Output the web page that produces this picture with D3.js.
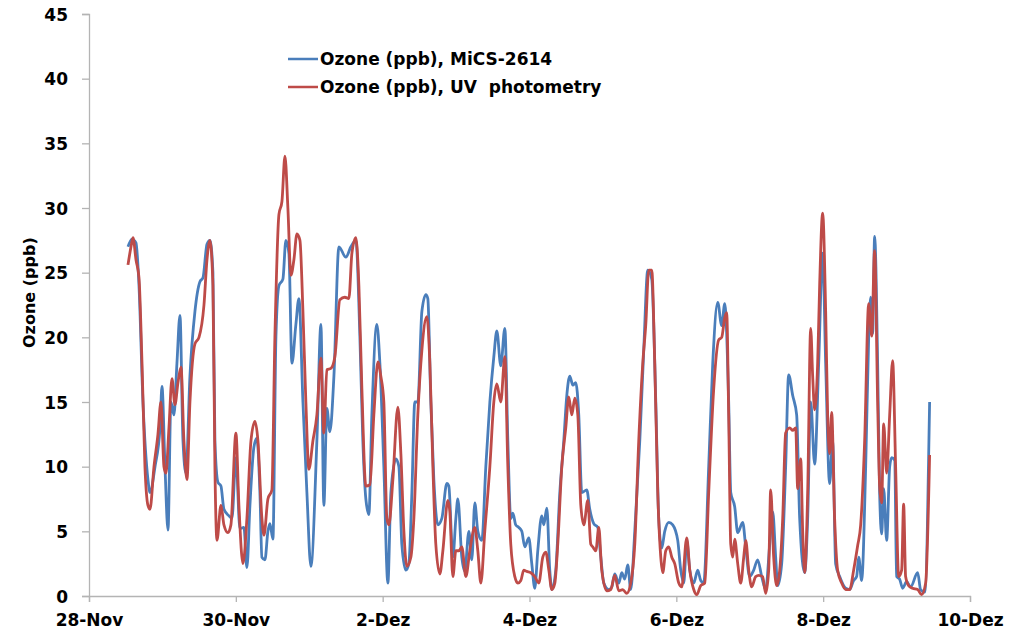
<!DOCTYPE html>
<html>
<head>
<meta charset="utf-8">
<script src="https://cdn.jsdelivr.net/npm/d3@7"></script>
<style>
  html, body { margin: 0; padding: 0; background: #fff; }
  svg text { font-family: "DejaVu Sans", sans-serif; font-weight: bold; fill: #000; }
</style>
</head>
<body>
<svg id="chart" width="1021" height="633"></svg>
<script>
// days since 28-Nov 00:00 and ozone in ppb
const micsDays = [0.531,0.585,0.640,0.681,0.735,0.803,0.830,0.899,0.967,0.994,1.035,1.076,1.116,1.157,1.198,1.239,1.280,1.321,1.375,1.443,1.511,1.552,1.607,1.647,1.688,1.715,1.756,1.797,1.838,1.906,1.947,2.001,2.056,2.110,2.151,2.192,2.246,2.287,2.328,2.355,2.396,2.437,2.464,2.505,2.546,2.587,2.641,2.682,2.723,2.764,2.818,2.859,2.914,2.968,3.022,3.104,3.159,3.199,3.240,3.281,3.336,3.404,3.499,3.567,3.635,3.690,3.730,3.771,3.812,3.853,3.921,3.962,4.016,4.071,4.112,4.180,4.221,4.261,4.316,4.357,4.398,4.438,4.479,4.534,4.588,4.615,4.656,4.697,4.752,4.806,4.874,4.901,4.956,4.997,5.024,5.078,5.119,5.174,5.214,5.255,5.296,5.351,5.405,5.460,5.514,5.555,5.609,5.664,5.705,5.745,5.773,5.813,5.854,5.895,5.936,5.990,6.031,6.072,6.113,6.167,6.195,6.236,6.276,6.304,6.358,6.413,6.467,6.508,6.549,6.590,6.630,6.671,6.712,6.780,6.821,6.875,6.930,6.971,7.012,7.080,7.121,7.161,7.216,7.257,7.297,7.338,7.379,7.434,7.502,7.556,7.611,7.665,7.720,7.760,7.801,7.842,7.897,7.951,8.019,8.060,8.101,8.142,8.183,8.237,8.291,8.332,8.373,8.441,8.496,8.564,8.618,8.659,8.713,8.741,8.795,8.836,8.904,8.945,8.999,9.054,9.108,9.163,9.217,9.272,9.313,9.353,9.381,9.435,9.489,9.530,9.585,9.639,9.680,9.748,9.789,9.830,9.884,9.939,9.993,10.034,10.088,10.129,10.170,10.225,10.306,10.361,10.415,10.456,10.484,10.524,10.579,10.620,10.647,10.674,10.701,10.742,10.769,10.797,10.824,10.865,10.906,10.933,10.974,11.001,11.042,11.082,11.137,11.191,11.287,11.327,11.382,11.450];
const micsPpb = [27.0,27.6,27.3,24,15,9,8,10,13,16.2,10,5.1,15,14,18,21.7,12,9.5,17,22,24.3,24.6,27.2,27.5,25,12,8.8,8.5,6.7,6.2,6,10.7,5.2,5.3,2.2,7,11.5,12.2,8,3,2.8,5,5.6,4.4,20,24,24.5,27.5,26.5,18,21,23,15,8,2.3,12,21,7,14.5,12.7,17,27,26.2,27,27.5,20,12,7.5,6.3,14,21,18,10,1,8,10.6,10,4,2,2.5,8,15,15,22,23.3,23,15,9,5.5,6,8.7,8.5,3,6,7.5,3,1.9,5,2.8,7.2,5,4.3,10,15,18.5,20.5,17.8,20.7,12,6,6.4,5.5,5.3,5,3.8,4.5,2.5,0.6,3.5,6.2,5.5,6.8,2,0.5,2,8,12,15.5,17,16.3,16.5,14,8,8.2,6.7,5.6,5.3,3,1,0.5,0.7,1.7,1,1.8,1.3,2.4,0.5,5,12,19,25.2,24.5,15,6,3.7,5,5.7,5.5,4.3,2,1,4.3,2,1,2,1.2,1,10,18,22.7,20.9,22.6,15,8,6.9,4.9,5.7,3.8,1.5,2,2.8,1.5,0.5,4,6.5,3,0.8,2.5,10,17.1,15.5,14,6,1.8,6,15,10.2,18,26.5,18,8.7,12,2.5,1.5,0.6,0.5,1.2,1.5,3,1.2,10,20,23.1,20.3,27.8,18,8,4.8,8.3,4.3,10,10.7,10.5,1.5,1.3,0.6,1.1,0.7,1.8,0.5,0.3,15];

const uvDays = [0.531,0.572,0.599,0.640,0.681,0.722,0.762,0.803,0.830,0.885,0.939,0.980,1.021,1.048,1.089,1.130,1.171,1.212,1.253,1.293,1.334,1.375,1.443,1.498,1.566,1.607,1.647,1.688,1.715,1.743,1.797,1.838,1.892,1.933,2.001,2.042,2.097,2.151,2.206,2.260,2.301,2.355,2.383,2.437,2.491,2.532,2.587,2.628,2.669,2.709,2.750,2.791,2.832,2.873,2.914,2.954,2.995,3.050,3.104,3.159,3.199,3.240,3.295,3.349,3.417,3.485,3.540,3.581,3.635,3.676,3.717,3.771,3.826,3.880,3.935,3.975,4.016,4.057,4.084,4.139,4.207,4.248,4.289,4.329,4.384,4.425,4.479,4.534,4.602,4.643,4.684,4.724,4.779,4.820,4.888,4.915,4.956,4.997,5.037,5.078,5.133,5.187,5.255,5.296,5.337,5.391,5.460,5.514,5.555,5.609,5.664,5.705,5.745,5.800,5.841,5.882,5.922,5.963,6.018,6.072,6.127,6.181,6.222,6.263,6.304,6.345,6.385,6.440,6.494,6.535,6.576,6.617,6.658,6.699,6.740,6.794,6.835,6.862,6.903,6.944,6.984,7.053,7.107,7.161,7.216,7.270,7.325,7.379,7.434,7.488,7.543,7.584,7.624,7.665,7.706,7.747,7.788,7.815,7.856,7.897,7.938,7.978,8.033,8.074,8.142,8.183,8.237,8.278,8.332,8.387,8.441,8.509,8.577,8.618,8.659,8.686,8.713,8.741,8.768,8.795,8.836,8.877,8.918,8.945,8.986,9.026,9.081,9.122,9.176,9.217,9.258,9.285,9.326,9.367,9.408,9.449,9.489,9.544,9.585,9.626,9.653,9.694,9.721,9.748,9.789,9.830,9.857,9.884,9.925,9.952,9.993,10.034,10.061,10.088,10.116,10.156,10.197,10.252,10.306,10.361,10.415,10.470,10.511,10.565,10.620,10.661,10.701,10.742,10.769,10.797,10.824,10.865,10.906,10.946,10.987,11.028,11.069,11.096,11.123,11.164,11.218,11.287,11.341,11.396,11.450];
const uvPpb = [25.6,27,27.7,26,24.6,18,10,7,6.7,10,12.5,15,10,9.5,13,16.8,14.8,16.5,17.7,12,9,15,19.5,20,22.5,26,27.5,24,10,4.3,7.0,5.5,4.9,5.5,12.6,7,2.5,6,12,13.5,12,6,4.7,7.5,8.2,20,29.5,30.5,34,30,24.8,26,28,27.5,22,15,9.8,12,14,18.4,12.6,17.5,17.6,18.5,22.9,23.1,23,26.5,27.7,24,16,8.5,8.6,14,18.1,17,15,6,5.5,9,14.6,11,5,2.3,3,6,14,19,21.6,18,10,4,1.7,3.5,7.4,6.5,1.5,3.5,3.5,3.8,1.5,3.5,5.3,3.5,1,5,10,15,16.4,15,18.5,10,4,1.5,1,1.2,2,1.9,1.8,1.5,1,3,3.4,2,0.5,1,4,10,13,15.4,14,15.3,14,7,5.5,7.4,4,3.8,3.5,5.3,2,0.4,0.5,1.6,0.4,0.5,0.2,1,4,12,18,21,25.2,25.2,18,8,3,1.8,3.5,3.8,3,2.5,1,0.7,4.5,2,0.5,0.1,0.8,1,8,16,19.8,20,21.5,21.9,14,4,3,4.4,2.5,1,3,4.3,2,0.7,1.5,1.6,1.5,0.2,2,8.2,3,0.8,2,6,12.6,13,12.8,13,8.3,10.6,5,1.8,8,20.7,17,14.4,18,24,29.6,22,14,11,14.2,6,2,1,0.5,0.5,2,3.9,5.5,12,22.6,20.1,26.7,15,8.5,7.2,13.3,9.5,14,18.2,10,1.5,2,7.1,1.5,0.8,0.6,0.5,0.1,1,10.9];

const tickDays = [0, 2, 4, 6, 8, 10, 12];
const tickLabels = ["28-Nov", "30-Nov", "2-Dez", "4-Dez", "6-Dez", "8-Dez", "10-Dez"];
const yTicks = [0, 5, 10, 15, 20, 25, 30, 35, 40, 45];
const seriesNames = ["Ozone (ppb), MiCS-2614", "Ozone (ppb), UV  photometry"];
const seriesColors = ["#4a7ebb", "#be4b48"];

const svg = d3.select("#chart");
const plot = { left: 89, right: 970, top: 14, bottom: 596 };

const x = d3.scaleLinear().domain([0, 12]).range([plot.left, plot.right]);
const y = d3.scaleLinear().domain([0, 45]).range([plot.bottom, plot.top]);

svg.append("rect").attr("width", 1021).attr("height", 633).attr("fill", "#fff");

// axes
const yAxis = svg.append("g")
    .attr("transform", `translate(${plot.left},0)`)
    .call(d3.axisLeft(y).tickValues(yTicks).tickSize(7).tickPadding(14));
const xAxis = svg.append("g")
    .attr("transform", `translate(0,${plot.bottom})`)
    .call(d3.axisBottom(x).tickValues(tickDays).tickSize(6).tickPadding(10)
      .tickFormat((d, i) => tickLabels[i]));

[yAxis, xAxis].forEach(g => {
  g.select(".domain").attr("stroke", "#b4b4b4").attr("stroke-width", 1.3);
  g.selectAll(".tick line").attr("stroke", "#b4b4b4").attr("stroke-width", 1.3);
  g.selectAll("text").attr("font-size", 17).attr("font-family", "DejaVu Sans").attr("font-weight", "bold").attr("fill", "#000");
});
yAxis.selectAll(".tick text").attr("dy", "0.36em");
xAxis.selectAll(".tick text").attr("dy", "0.8em");

svg.append("text")
    .attr("transform", "translate(35,348) rotate(-90)")
    .attr("font-size", 16)
    .text("Ozone (ppb)");

// lines
const line = d3.line()
    .x(d => x(d[0]))
    .y(d => y(d[1]))
    .curve(d3.curveMonotoneX);

const series = [
  d3.zip(micsDays, micsPpb),
  d3.zip(uvDays, uvPpb)
];

series.forEach((s, i) => {
  svg.append("path")
      .datum(s)
      .attr("fill", "none")
      .attr("stroke", seriesColors[i])
      .attr("stroke-width", 2.8)
      .attr("stroke-linejoin", "round")
      .attr("d", line);
});

// legend
const legend = svg.append("g").attr("transform", "translate(288,59)");
seriesNames.forEach((name, i) => {
  const row = legend.append("g").attr("transform", `translate(0,${i * 28})`);
  row.append("line").attr("x1", 0).attr("x2", 30)
      .attr("stroke", seriesColors[i]).attr("stroke-width", 2.5);
  row.append("text").attr("x", 32).attr("dy", "0.36em")
      .attr("font-size", 17)
      .style("white-space", "pre")
      .text(name);
});
</script>
</body>
</html>
